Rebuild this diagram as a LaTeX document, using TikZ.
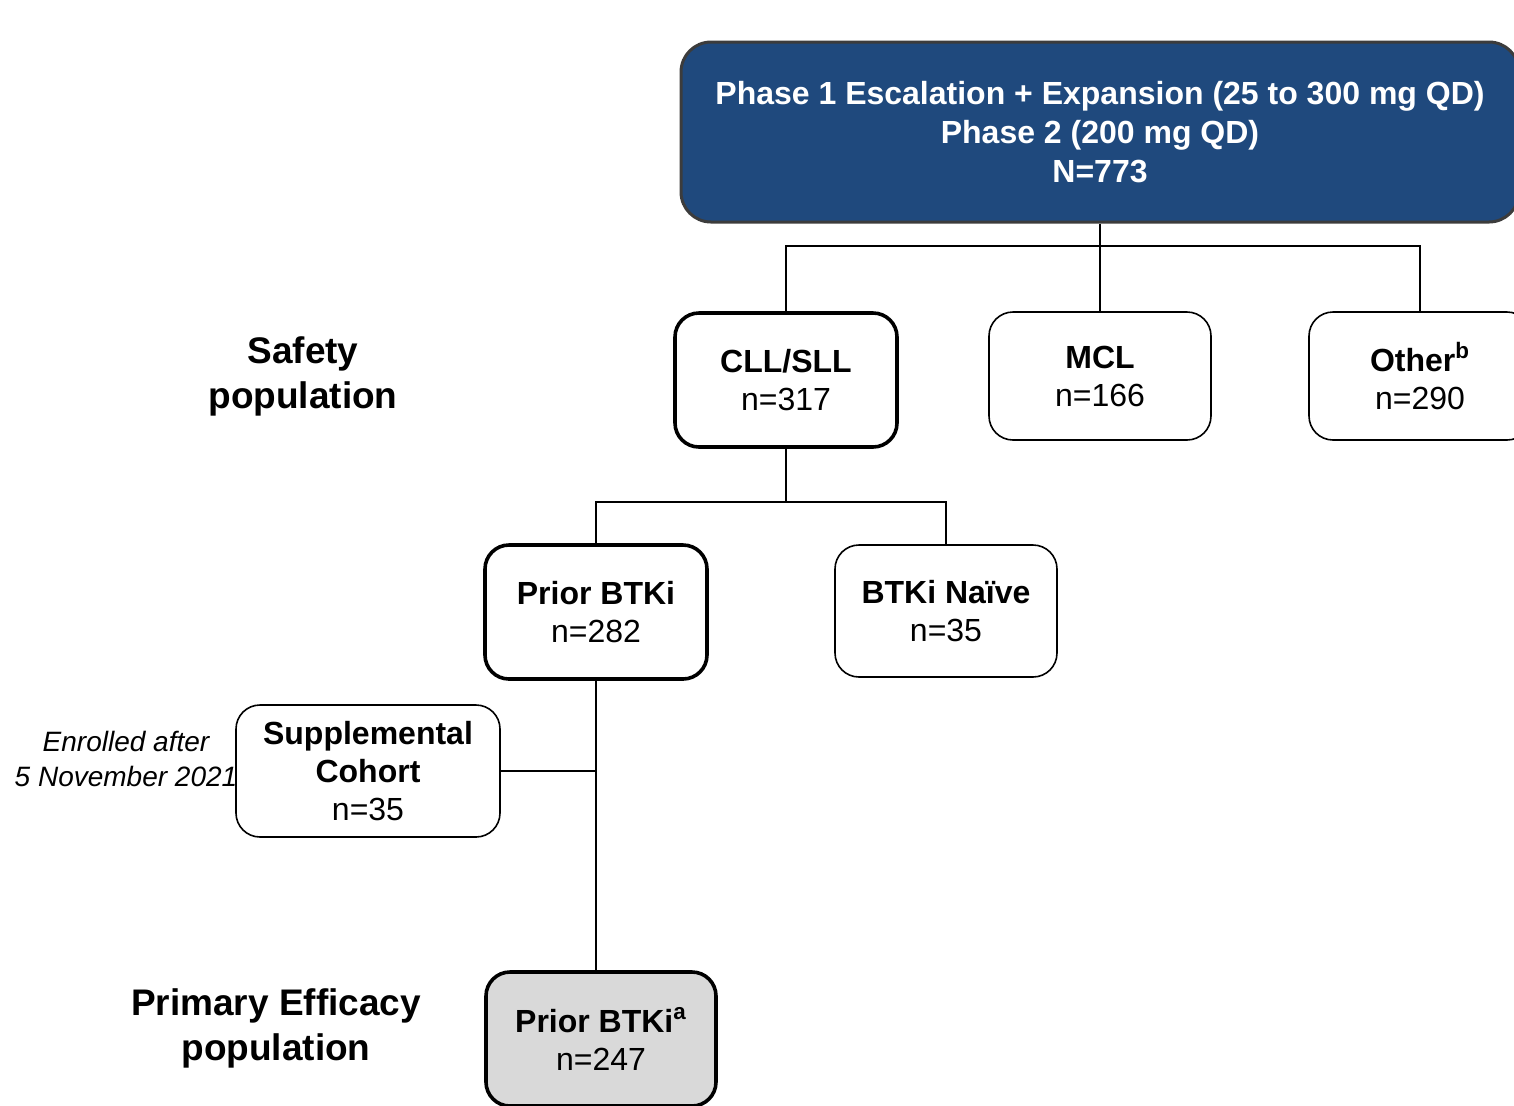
\documentclass[tikz,border=0pt]{standalone}
\usepackage{fontspec}
\setmainfont{Liberation Sans}
\usepackage{tikz}
\definecolor{phaseblue}{RGB}{31,73,125}
\definecolor{effgray}{RGB}{217,217,217}
\definecolor{edgegray}{RGB}{60,60,60}

\begin{document}
\begin{tikzpicture}[x=0.5pt, y=-0.5pt, % one unit is one pixel of the layout
    box/.style={draw=black, line width=0.8pt, rounded corners=12pt, align=center,
      minimum width=111pt, font=\fontsize{16}{19}\selectfont},
    boldbox/.style={box, line width=1.8pt},
    sidelabel/.style={align=center, font=\fontsize{18.5}{22.5}\selectfont\bfseries},
    link/.style={line width=0.75pt}]
  % page size of the layout
  \useasboundingbox (0,0) rectangle (1514,1105);

  % Top box
  \node[box, draw=edgegray, line width=1.5pt, fill=phaseblue, text=white, font=\fontsize{16}{19.3}\selectfont\bfseries,
    minimum width=419pt, minimum height=90pt, rounded corners=15pt] (phase) at (1100,132)
    {Phase 1 Escalation + Expansion (25 to 300 mg QD)\\Phase 2 (200 mg QD)\\N=773};

  % Safety population
  \node[boldbox, minimum height=67pt] (cll) at (786,380) {\textbf{CLL/SLL}\\n=317};
  \node[box, minimum height=64pt] (mcl) at (1100,376) {\textbf{MCL}\\n=166};
  \node[box, minimum height=64pt] (other) at (1420,376) {\textbf{Other\textsuperscript{b}}\\n=290};
  \node[sidelabel] (safety) at (303,376) {Safety\\population};

  % CLL/SLL split
  \node[boldbox, minimum height=67pt] (prior) at (596,612) {\textbf{Prior BTKi}\\n=282};
  \node[box, minimum height=66pt] (naive) at (946,611) {\textbf{BTKi Na\"ive}\\n=35};

  % Supplemental cohort
  \node[box, minimum width=132pt, minimum height=66pt] (supp) at (368,771)
    {\textbf{Supplemental}\\\textbf{Cohort}\\n=35};
  \node[align=center, font=\fontsize{14}{17.5}\selectfont\itshape] (enrolled) at (126,759)
    {Enrolled after\\5 November 2021};

  % Primary efficacy population
  \node[boldbox, fill=effgray, minimum width=115pt, minimum height=67pt] (eff) at (601,1039)
    {\textbf{Prior BTKi\textsuperscript{a}}\\n=247};
  \node[sidelabel] (effpop) at (276,1028) {Primary Efficacy\\population};

  % Connectors
  \coordinate (splitA) at (1100,246);
  \coordinate (splitB) at (786,502);
  \draw[link] (phase.south) -- (mcl.north);
  \draw[link] (cll.north) |- (splitA) -| (other.north);
  \draw[link] (cll.south) -- (splitB);
  \draw[link] (prior.north) |- (splitB) -| (naive.north);
  \draw[link] (prior.south) -- (prior.south |- eff.north);
  \draw[link] (supp.east) -- (supp.east -| prior.south);
\end{tikzpicture}
\end{document}
